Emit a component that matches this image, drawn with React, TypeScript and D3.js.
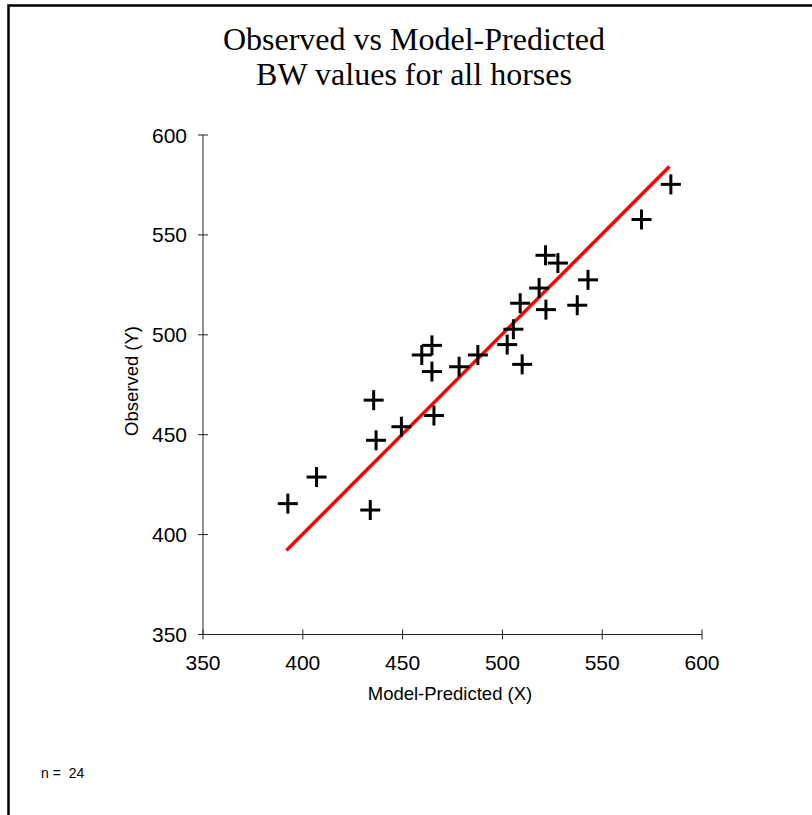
import React from "react";
import * as d3 from "d3";

const predicted = [392.5, 406.9, 433.8, 435.5, 436.7, 449.4, 459.6, 464.7, 464.7, 465.7, 478.3, 487.7, 502.4, 505.5, 509.9, 508.9, 518.4, 521.8, 521.6, 527.8, 537.5, 542.9, 569.7, 584.4];
const observed = [415.5, 428.8, 412.3, 467.3, 447.2, 454.0, 489.9, 494.7, 481.6, 459.6, 484.0, 489.9, 495.1, 502.8, 485.2, 515.8, 523.4, 512.6, 539.8, 535.9, 514.8, 527.5, 557.7, 575.3];
const lineX = [391.8, 583.7];
const lineY = [392.1, 584.2];
const xTicks = [350, 400, 450, 500, 550, 600];
const yTicks = [350, 400, 450, 500, 550, 600];
const titleLines = ["Observed vs Model-Predicted", "BW values for all horses"];
const xLabel = "Model-Predicted (X)";
const yLabel = "Observed (Y)";
const nLabel = "n =  24";

export default function App() {
  const x = d3.scaleLinear().domain([350, 600]).range([203, 702]);
  const y = d3.scaleLinear().domain([350, 600]).range([634.5, 135]);
  const line = d3.line<number>().x((_, i) => x(lineX[i])).y((_, i) => y(lineY[i]));
  const arm = 10;
  const sans = "Arial, 'Liberation Sans', sans-serif";
  return (
    <svg width={812} height={815} style={{ position: "absolute", left: 0, top: 0, background: "#fff" }}>
      <rect x={0} y={0} width={812} height={815} fill="#fff" />
      <rect x={8.5} y={5.5} width={830} height={840} fill="none" stroke="#000" strokeWidth={2.5} />
      {titleLines.map((t, i) => (
        <text key={i} x={414} y={50 + i * 35} textAnchor="middle" fontFamily="'Liberation Serif', 'Times New Roman', serif" fontSize={32} fill="#000">{t}</text>
      ))}
      {/* y axis */}
      <line x1={x(350)} x2={x(350)} y1={y(350)} y2={y(600)} stroke="#222" strokeWidth={1} />
      {yTicks.map((t) => (
        <g key={"y" + t}>
          <line x1={x(350) - 5} x2={x(350) + 5} y1={y(t)} y2={y(t)} stroke="#222" strokeWidth={1} />
          <text x={187} y={y(t)} dy="0.36em" textAnchor="end" fontFamily={sans} fontSize={21} fill="#000">{t}</text>
        </g>
      ))}
      {/* x axis */}
      <line x1={x(350)} x2={x(600)} y1={y(350)} y2={y(350)} stroke="#222" strokeWidth={1} />
      {xTicks.map((t) => (
        <g key={"x" + t}>
          <line x1={x(t)} x2={x(t)} y1={y(350) - 5} y2={y(350) + 5} stroke="#222" strokeWidth={1} />
          <text x={x(t)} y={670} textAnchor="middle" fontFamily={sans} fontSize={21} fill="#000">{t}</text>
        </g>
      ))}
      <text x={450} y={700} textAnchor="middle" fontFamily={sans} fontSize={18.5} fill="#000">{xLabel}</text>
      <text transform={`translate(138,381) rotate(-90)`} textAnchor="middle" fontFamily={sans} fontSize={18.5} fill="#000">{yLabel}</text>
      <path d={line(lineX) || ""} stroke="#ff0000" strokeWidth={3.5} fill="none" />
      {predicted.map((p, i) => (
        <g key={"p" + i} stroke="#000" strokeWidth={3}>
          <line x1={x(p) - arm} x2={x(p) + arm} y1={y(observed[i])} y2={y(observed[i])} />
          <line x1={x(p)} x2={x(p)} y1={y(observed[i]) - arm} y2={y(observed[i]) + arm} />
        </g>
      ))}
      <text x={41} y={778} fontFamily={sans} fontSize={14} fill="#000" style={{ whiteSpace: "pre" }}>{nLabel}</text>
    </svg>
  );
}
